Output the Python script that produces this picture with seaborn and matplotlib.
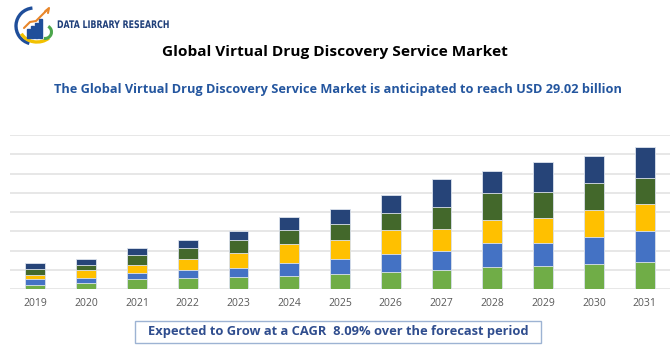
import matplotlib
matplotlib.use("Agg")
import matplotlib.pyplot as plt
from matplotlib.patches import Arc, Rectangle, FancyBboxPatch, PathPatch
from matplotlib.textpath import TextPath
from matplotlib.font_manager import FontProperties
from matplotlib.transforms import Affine2D
import numpy as np
import pandas as pd
import seaborn as sns

years = ["2019", "2020", "2021", "2022", "2023", "2024", "2025",
         "2026", "2027", "2028", "2029", "2030", "2031"]
# stacked segments, bottom to top
seg1 = [0.24, 0.31, 0.52, 0.57, 0.66, 0.69, 0.79, 0.90, 1.00, 1.17, 1.21, 1.29, 1.41]
seg2 = [0.29, 0.28, 0.34, 0.41, 0.45, 0.69, 0.79, 0.95, 0.98, 1.21, 1.21, 1.40, 1.59]
seg3 = [0.21, 0.40, 0.40, 0.60, 0.79, 0.98, 1.00, 1.21, 1.14, 1.21, 1.26, 1.41, 1.41]
seg4 = [0.31, 0.28, 0.50, 0.55, 0.66, 0.71, 0.81, 0.90, 1.17, 1.38, 1.38, 1.41, 1.38]
seg5 = [0.29, 0.29, 0.36, 0.45, 0.45, 0.69, 0.78, 0.95, 1.41, 1.17, 1.55, 1.41, 1.59]
colors = ["#70AD47", "#4472C4", "#FFC000", "#43682B", "#264478"]

title = "Global Virtual Drug Discovery Service Market"
subtitle = "The Global Virtual Drug Discovery Service Market is anticipated to reach USD 29.02 billion"
footer = "Expected to Grow at a CAGR  8.09% over the forecast period"
brand = "DATA LIBRARY RESEARCH"

sns.set_style("white")
plt.rcParams["font.family"] = ["Open Sans", "DejaVu Sans"]

df = pd.DataFrame({"year": years, "s1": seg1, "s2": seg2, "s3": seg3, "s4": seg4, "s5": seg5})
cols = ["s1", "s2", "s3", "s4", "s5"]
cum = df[cols].cumsum(axis=1)

fig = plt.figure(figsize=(6.7, 3.5), dpi=100)
ax = fig.add_axes([10 / 670, 60.7 / 350, 660 / 670, 154.3 / 350])

# draw cumulative totals from the top down so each layer shows as a segment
for c, col in reversed(list(zip(colors, cols))):
    sns.barplot(x=df["year"], y=cum[col], color=c, width=0.39, saturation=1,
                edgecolor="#DDE3EE", linewidth=0.6, ax=ax, zorder=3)

ax.set_ylim(0, 8)
ax.set_xlim(-0.5, 12.5)
ax.set_yticks(np.arange(0, 9, 1))
ax.yaxis.grid(True, color="#E3E3E3", linewidth=1.2, zorder=0)
ax.set_yticklabels([])
ax.tick_params(axis="y", length=0)
ax.tick_params(axis="x", length=0, labelsize=7.5, labelcolor="#595959", pad=6)
ax.set_xlabel("")
ax.set_ylabel("")
for s in ax.spines.values():
    s.set_visible(False)

fig.text(0.5, 1 - 52 / 350, title, ha="center", va="center",
         fontsize=11.1, fontweight="bold", color="black")
fig.text(338 / 670, 1 - 90 / 350, subtitle, ha="center", va="center",
         fontsize=9.2, fontweight="bold", color="#24569F")

box = FancyBboxPatch((135 / 670, 1 - 343 / 350), 406 / 670, 22 / 350,
                     boxstyle="square,pad=0", transform=fig.transFigure,
                     facecolor="white", edgecolor="#9DB3D3", linewidth=1)
fig.patches.append(box)
fig.text(338 / 670, 1 - 332 / 350, footer, ha="center", va="center",
         fontsize=9.3, fontweight="bold", color="#2F4D8E")

# logo icon
lax = fig.add_axes([12 / 670, 1 - 48 / 350, 44 / 670, 44 / 350])
lax.set_xlim(0, 44)
lax.set_ylim(0, 44)
lax.axis("off")
lax.add_patch(Arc((22, 22), 36, 36, theta1=95, theta2=255, color="#1F4E9A", lw=2.4))
lax.add_patch(Arc((25, 20), 34, 28, theta1=200, theta2=320, color="#F2C100", lw=2.4))
for bx, bh in zip([15, 19, 23, 27], [9, 12, 15, 19]):
    lax.add_patch(Rectangle((bx, 10), 2.8, bh, color="#1F4E9A"))
lax.plot([12, 18, 24, 35], [20, 26, 27, 38], color="#E8862A", lw=1.5)
lax.plot([33, 37, 36], [36.5, 40, 35], color="#E8862A", lw=1.5)
lax.add_patch(Arc((33, 16), 13, 13, theta1=260, theta2=60, color="#4CA64C", lw=2.2))

# condensed brand text: bold glyph outlines squeezed horizontally
tp = TextPath((0, 0), brand, size=10.5, prop=FontProperties(family="DejaVu Sans", weight="bold"))
sx = 111 / tp.get_extents().width
tr = Affine2D().scale(sx, 1.0).translate(57, 350 - 28).scale(1 / 670, 1 / 350) + fig.transFigure
fig.patches.append(PathPatch(tp, transform=tr, facecolor="#1F3F7A", edgecolor="none"))

fig.savefig("out.png", dpi=100)
